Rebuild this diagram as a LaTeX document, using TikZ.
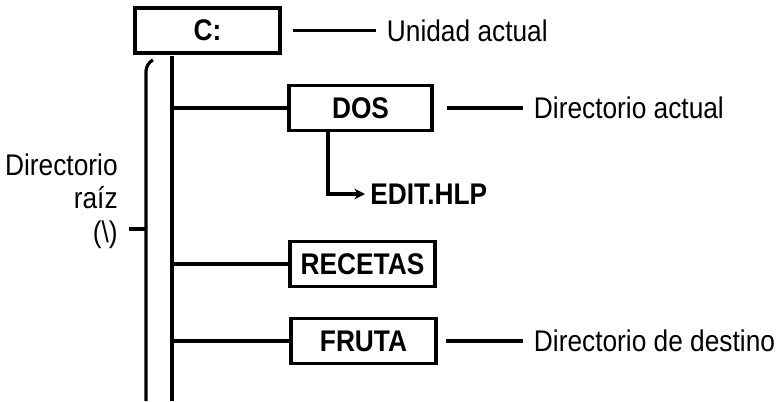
\documentclass[tikz,border=0pt]{standalone}
\usepackage{fontspec}
\setmainfont{Liberation Sans}[FakeStretch=0.88]
\usepackage{tikz}
\usetikzlibrary{positioning,arrows.meta}

\begin{document}
\begin{tikzpicture}[
  every node/.style={font=\fontsize{17pt}{19pt}\selectfont},
  dirbox/.style={draw, line width=1.8pt, minimum height=0.9cm, minimum width=2.9cm, align=center, fill=white, font=\fontsize{17pt}{19pt}\selectfont\bfseries},
  lbl/.style={inner sep=0.1cm},
  ln/.style={line width=1.8pt},
  arr/.style={-{Stealth[length=6pt,width=6pt]}, line width=1.8pt},
]
\useasboundingbox (0,0) rectangle (15.56,8.02);

\node[dirbox] (c) at (4.15,7.41) {C:};
\node[dirbox, minimum width=2.86cm] (dos) at (7.21,5.86) {DOS};
\node[dirbox] (recetas) at (7.25,2.74) {RECETAS};
\node[dirbox] (fruta) at (7.27,1.2) {FRUTA};
\node[lbl, anchor=west, font=\fontsize{17pt}{19pt}\selectfont\bfseries] (edit) at (7.3,4.14) {EDIT.HLP};

\node[lbl, right=2.0cm of c] (unidad) {Unidad actual};
\node[lbl, right=1.9cm of dos] (actual) {Directorio actual};
\node[lbl, right=1.82cm of fruta] (destino) {Directorio de destino};
\node[lbl, align=right, anchor=east] (raiz) at (2.46,4.0) {Directorio\\raíz\\(\textbackslash)};

\coordinate (rootR) at (3.44,6.9);
\coordinate (rootRb) at (3.44,0);
\coordinate (rootL) at (3.06,6.82);
\coordinate (rootLb) at (2.92,0);
\coordinate (tick) at (2.92,3.44);

\draw[ln] (rootR) -- (rootRb);
\draw[ln, rounded corners=4pt] (rootL) -- (2.92,6.74) -- (rootLb);
\draw[ln] (raiz.east |- tick) ++(0.12,0) -- (tick);

\draw[ln] (dos.west -| rootR) -- (dos.west);
\draw[ln] (recetas.west -| rootR) -- (recetas.west);
\draw[ln] (fruta.west -| rootR) -- (fruta.west);
\draw[arr] ([xshift=-0.65cm]dos.south) |- (edit.west);

\draw[ln, shorten <=0.22cm, shorten >=0.12cm] (c.east) -- (unidad.west);
\draw[ln, shorten <=0.26cm, shorten >=0.12cm] (dos.east) -- (actual.west);
\draw[ln, shorten <=0.16cm, shorten >=0.12cm] (fruta.east) -- (destino.west);
\end{tikzpicture}
\end{document}
